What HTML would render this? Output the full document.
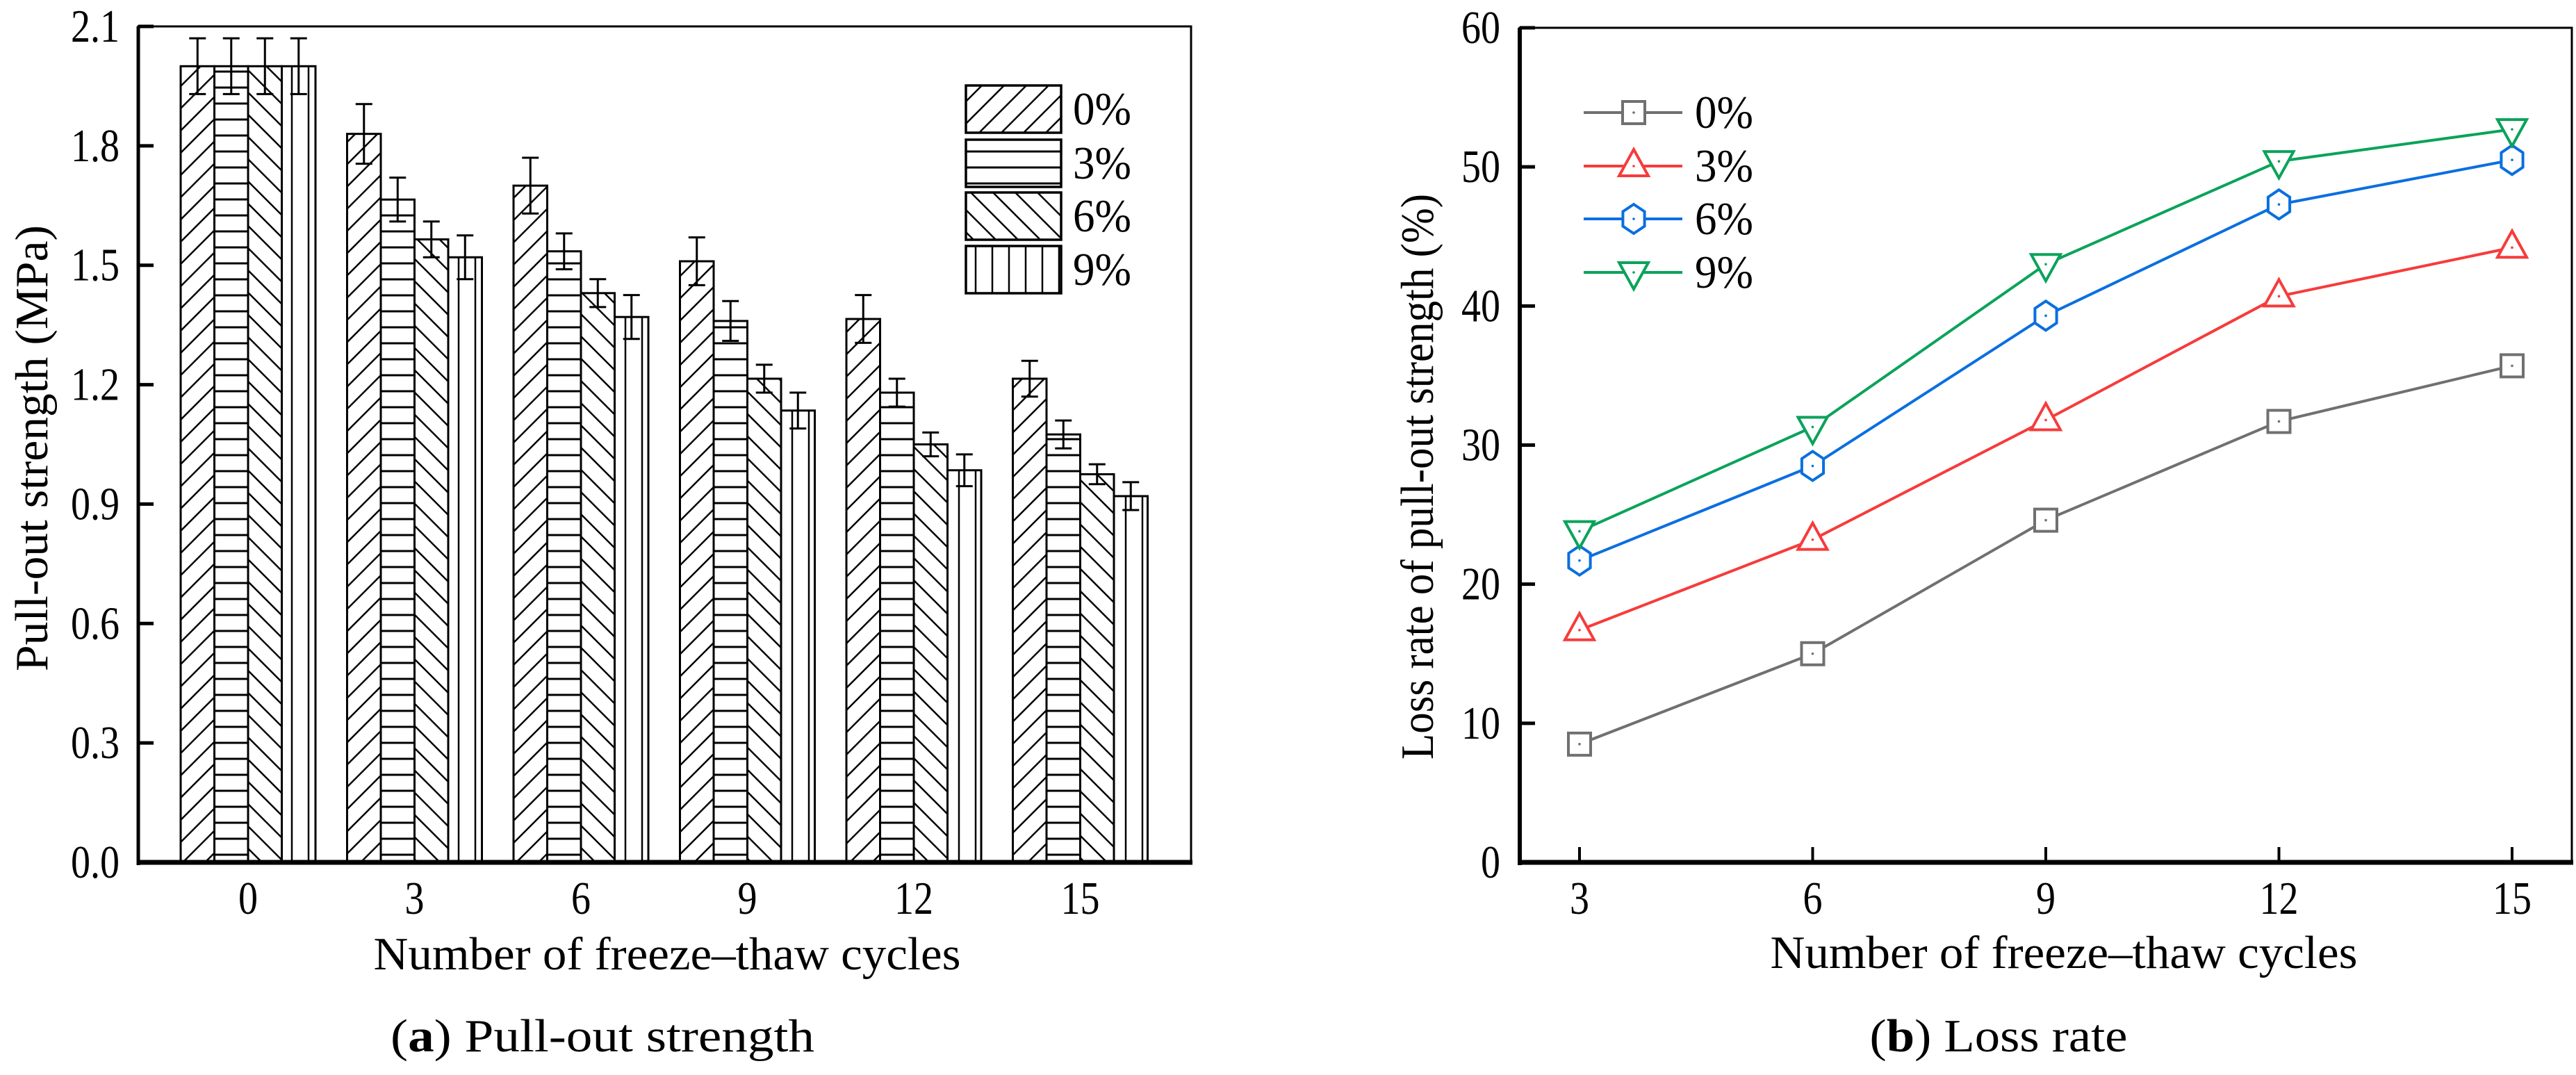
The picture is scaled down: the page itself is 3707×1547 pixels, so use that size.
<!DOCTYPE html>
<html><head><meta charset="utf-8"><style>
html,body{margin:0;padding:0;background:#fff}
svg{display:block;font-family:"Liberation Serif",serif}
</style></head><body>
<svg id="fig" width="3707" height="1547" viewBox="0 0 3707 1547" xmlns="http://www.w3.org/2000/svg">
<defs>
<pattern id="p0" patternUnits="userSpaceOnUse" width="32" height="32"><path d="M-4,36 L36,-4 M-20,20 L20,-20 M12,52 L52,12" stroke="#000" stroke-width="2.5"/></pattern>
<pattern id="p1" patternUnits="userSpaceOnUse" width="23" height="23"><path d="M0,11 L23,11" stroke="#000" stroke-width="3"/></pattern>
<pattern id="p2" patternUnits="userSpaceOnUse" width="32" height="32"><path d="M-4,-4 L36,36 M-20,12 L20,52 M12,-20 L52,20" stroke="#000" stroke-width="2.5"/></pattern>
<pattern id="p3" patternUnits="userSpaceOnUse" width="24" height="24"><path d="M12,0 L12,24" stroke="#000" stroke-width="2.5"/></pattern>
</defs>
<g id="left"></g>
<g id="right"></g>
</svg>
<script>
const NS="http://www.w3.org/2000/svg";
// ---- Left chart data
const barCategories=["0","3","6","9","12","15"];
const barSeriesNames=["0%","3%","6%","9%"];
const barS0=[2.0,1.83,1.70,1.51,1.365,1.215];
const barS1=[2.0,1.665,1.535,1.36,1.18,1.075];
const barS2=[2.0,1.565,1.43,1.215,1.05,0.975];
const barS3=[2.0,1.52,1.37,1.135,0.985,0.92];
const errS0=[0.07,0.075,0.07,0.06,0.06,0.045];
const errS1=[0.07,0.055,0.045,0.05,0.035,0.035];
const errS2=[0.07,0.045,0.035,0.035,0.03,0.025];
const errS3=[0.07,0.055,0.055,0.045,0.04,0.035];
const barYTicks=["0.0","0.3","0.6","0.9","1.2","1.5","1.8","2.1"];
// ---- Right chart data
const lineCategories=[3,6,9,12,15];
const lineSeriesNames=["0%","3%","6%","9%"];
const lineS0=[8.5,15.0,24.6,31.7,35.7];
const lineS1=[16.7,23.2,31.8,40.7,44.2];
const lineS2=[21.7,28.5,39.3,47.3,50.5];
const lineS3=[23.8,31.3,43.0,50.4,52.7];
const lineYTicks=[0,10,20,30,40,50,60];
const lineXTicks=[3,6,9,12,15];

const SY=1.2, FS=56;
function el(tag,attrs,parent,text){const e=document.createElementNS(NS,tag);for(const k in attrs)e.setAttribute(k,attrs[k]);if(text!==undefined)e.textContent=text;parent.appendChild(e);return e;}
function txt(parent,x,y,str,anchor,opts){
 opts=opts||{};
 const a={'font-size':opts.fs||FS,'text-anchor':anchor||'start',x:0,y:0,
  transform:`translate(${x},${y})`+(opts.rot?' rotate(-90)':'')+` scale(1,${SY})`};
 if(opts.len){a.textLength=opts.len;a.lengthAdjust='spacingAndGlyphs';}
 return el('text',a,parent,str);
}

// ===== LEFT
(function(){
const g=document.getElementById('left');
const L=199,R=1714,T=38,B=1241;
const y=v=>B-(v/2.1)*(B-T);
const gx=i=>357+i*239.5;
const bw=48.5;
const series=[barS0,barS1,barS2,barS3], errs=[errS0,errS1,errS2,errS3];
series.forEach((s,si)=>{s.forEach((v,i)=>{
 const x=gx(i)-2*bw+si*bw;
 const r=el('rect',{x:x,y:y(v),width:bw,height:B-y(v),fill:'url(#p'+si+')',stroke:'#000','stroke-width':3},g);
 
 
});});
series.forEach((s,si)=>{s.forEach((v,i)=>{
 const cx=gx(i)-2*bw+si*bw+bw/2,e=errs[si][i];
 const eb=el('path',{d:`M${cx},${y(v+e)}V${y(v-e)}M${cx-12},${y(v+e)}h24M${cx-12},${y(v-e)}h24`,stroke:'#000','stroke-width':3,fill:'none'},g);
 
 
});});
el('rect',{x:L,y:T,width:R-L,height:B-T,fill:'none',stroke:'#000','stroke-width':3},g);
el('line',{x1:L,y1:T,x2:L,y2:B+4,stroke:'#000','stroke-width':5},g);
el('line',{x1:L-2,y1:B,x2:R+2,y2:B,stroke:'#000','stroke-width':7},g);
barYTicks.forEach(t=>{const yy=y(parseFloat(t));
 el('line',{x1:L,y1:yy,x2:L+22,y2:yy,stroke:'#000','stroke-width':5},g);
 const tx=txt(g,172,yy+22,t,'end');
 
 
});
barCategories.forEach((c,i)=>{
 const tx=txt(g,gx(i),1315,c,'middle');
 
 
});
const yt=txt(g,68,645,'Pull-out strength (MPa)','middle',{rot:1,len:642});

const xt=txt(g,960,1395,'Number of freeze–thaw cycles','middle',{len:845});

const cap=txt(g,867,1513,'','middle',{len:610});

cap.innerHTML='(<tspan font-weight="bold">a</tspan>) Pull-out strength';
barSeriesNames.forEach((n,si)=>{
 const ly=[123,201,277,354][si];
 const r=el('rect',{x:1390,y:ly,width:137,height:68,fill:'url(#p'+si+')',stroke:'#000','stroke-width':3.5},g);
 
 const t=txt(g,1544,ly+56,n,'start',{len:84});
 
});
})();

// ===== RIGHT
(function(){
const g=document.getElementById('right');
const L=2187,R=3701,T=40,B=1241;
const y=v=>B-(v/60)*(B-T);
const x=v=>2273+(v-3)/12*(3615-2273);
const series=[lineS0,lineS1,lineS2,lineS3];
const colors=['#707070','#f73b3b','#0a6fe0','#0aa35a'];
function marker(si,cx,cy){
 const c=colors[si];let m;
 if(si===0) m=el('rect',{x:cx-16,y:cy-16,width:32,height:32,fill:'#fff',stroke:c,'stroke-width':4},g);
 else if(si===1) m=el('path',{d:`M${cx},${cy-24}L${cx+21},${cy+14}L${cx-21},${cy+14}Z`,fill:'#fff',stroke:c,'stroke-width':4},g);
 else if(si===2){let d='';for(let k=0;k<6;k++){const a=Math.PI/2+k*Math.PI/3;d+=(k?'L':'M')+(cx+18*Math.cos(a))+','+(cy+21*Math.sin(a));}m=el('path',{d:d+'Z',fill:'#fff',stroke:c,'stroke-width':4},g);}
 else m=el('path',{d:`M${cx},${cy+24}L${cx+21},${cy-14}L${cx-21},${cy-14}Z`,fill:'#fff',stroke:c,'stroke-width':4},g);
 
 el('circle',{cx:cx,cy:cy,r:1.8,fill:c},g);
}
el('rect',{x:L,y:T,width:R-L,height:B-T,fill:'none',stroke:'#000','stroke-width':3},g);
el('line',{x1:L,y1:T,x2:L,y2:B+4,stroke:'#000','stroke-width':6},g);
el('line',{x1:L-3,y1:B,x2:R+2,y2:B,stroke:'#000','stroke-width':7},g);
lineYTicks.forEach(t=>{const yy=y(t);
 el('line',{x1:L,y1:yy,x2:L+22,y2:yy,stroke:'#000','stroke-width':5},g);
 const tx=txt(g,2159,yy+22,String(t),'end');
 
});
lineXTicks.forEach(t=>{const xx=x(t);
 el('line',{x1:xx,y1:B,x2:xx,y2:B-22,stroke:'#000','stroke-width':4},g);
 const tx=txt(g,xx,1315,String(t),'middle');
 
});
series.forEach((s,si)=>{
 const pts=s.map((v,i)=>x(lineCategories[i])+','+y(v)).join(' ');
 const pl=el('polyline',{points:pts,fill:'none',stroke:colors[si],'stroke-width':4},g);
 
 
});
series.forEach((s,si)=>s.forEach((v,i)=>marker(si,x(lineCategories[i]),y(v))));
lineSeriesNames.forEach((n,si)=>{
 const ly=[162,239,315,392][si];
 el('line',{x1:2279,y1:ly,x2:2421,y2:ly,stroke:colors[si],'stroke-width':4},g);
 marker(si,2351,ly);
 const t=txt(g,2439,ly+22,n,'start',{len:84});
 
});
const yt=txt(g,2062,686,'Loss rate of pull-out strength (%)','middle',{rot:1,len:814});

const xt=txt(g,2970,1393,'Number of freeze–thaw cycles','middle',{len:845});

const cap=txt(g,2876,1513,'','middle',{len:371});

cap.innerHTML='(<tspan font-weight="bold">b</tspan>) Loss rate';
})();
</script>
</body></html>
